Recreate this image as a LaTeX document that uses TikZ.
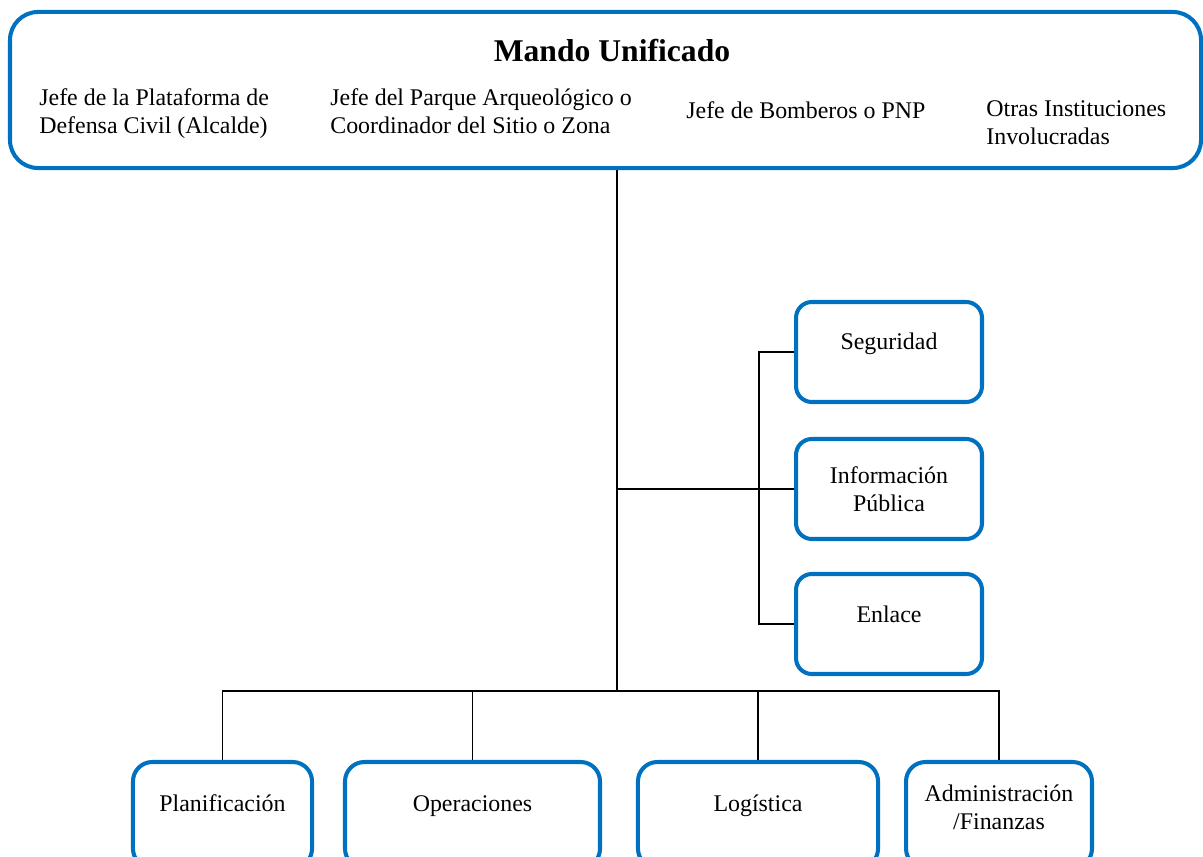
\documentclass[tikz,border=0pt]{standalone}
\usepackage{fontspec}
\setmainfont{Liberation Serif}
\usepackage{tikz}
\usetikzlibrary{positioning}
\definecolor{boxblue}{RGB}{0,112,192}

\begin{document}
\begin{tikzpicture}[x=0.569pt, y=-0.569pt,
	  every node/.style={font=\fontsize{13.6pt}{16pt}\selectfont},
	  unit/.style={draw=boxblue, line width=2.3pt, rounded corners=9pt, align=center,
	    minimum width=105.8pt, minimum height=56.9pt},
	  section/.style={draw=boxblue, line width=2.3pt, rounded corners=11pt, align=center,
	    minimum height=60.3pt, text depth=13.4pt},
	  member/.style={anchor=west, align=left, inner sep=0pt},
	  link/.style={line width=1.1pt}]
	  \useasboundingbox (0,0) rectangle (1203,857);
	  \clip (0,0) rectangle (1203,857);

	  \node [draw=boxblue, line width=2.3pt, rounded corners=16pt,
	    minimum width=677.7pt, minimum height=88.8pt] (mando) at (605.5,90) {};
	  \node [font=\fontsize{18pt}{22pt}\selectfont\bfseries] (titulo) at (612,51) {Mando Unificado};
	  \node [member] (plataforma) at (39,114)  {Jefe de la Plataforma de\\Defensa Civil (Alcalde)};
	  \node [member] (parque)     at (330,111) {Jefe del Parque Arqueológico o\\Coordinador del Sitio o Zona};
	  \node [member] (bomberos)   at (686,110) {Jefe de Bomberos o PNP};
	  \node [member] (otras)      at (986,123) {Otras Instituciones\\Involucradas};

	  \node [unit, text depth=11.8pt] (seg)  at (889,352) {Seguridad};
	  \node [unit]                    (info) at (889,489) {Información\\Pública};
	  \node [unit, text depth=11pt]   (enl)  at (889,624) {Enlace};

	  \node [section, minimum width=101.9pt] (plan)  at (222.5,815) {Planificación};
	  \node [section, minimum width=145.1pt] (oper)  at (472.5,815) {Operaciones};
	  \node [section, minimum width=136.6pt] (log)   at (758,815)   {Logística};
	  \node [section, minimum width=105.8pt, text depth=8.4pt] (admin) at (999,815) {Administración\\/Finanzas};

	  \coordinate (hub)   at (617,691);
	  \coordinate (staff) at (759,488);

	  \draw [link] (mando.south -| hub) to (hub);
	  \draw [link] (hub |- info.west) to (info.west);
	  \draw [link] (seg.west) -| (staff) |- (enl.west);
	  \draw [link] (plan.north) |- (hub) -| (admin.north);
	  \draw [link] (oper.north) to (oper.north |- hub);
	  \draw [link] (log.north) to (log.north |- hub);
	\end{tikzpicture}
\end{document}
